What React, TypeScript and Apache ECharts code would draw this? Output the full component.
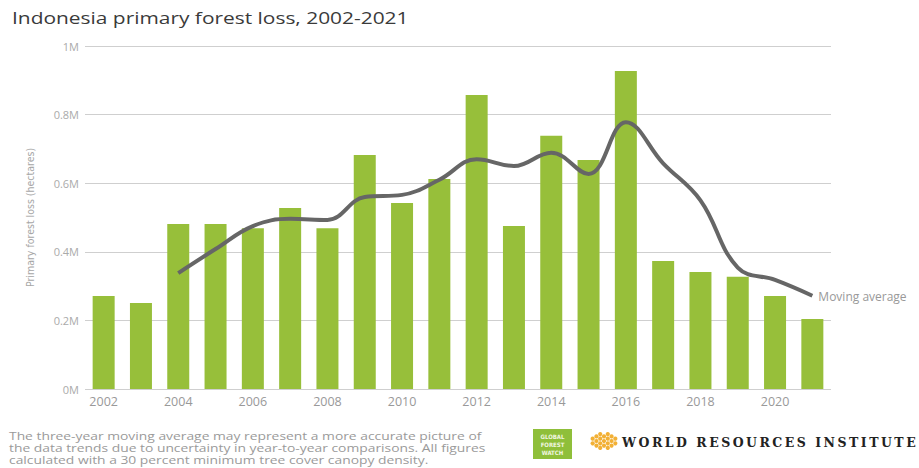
import React, { useEffect, useRef } from "react";
import * as echarts from "echarts";

const years = ["2002","2003","2004","2005","2006","2007","2008","2009","2010","2011","2012","2013","2014","2015","2016","2017","2018","2019","2020","2021"];
const forestLoss = [271000,251000,481000,481000,469000,528000,469000,682000,542000,612000,857000,475000,738000,668000,927000,373000,341000,327000,271000,204000];
const movingAverage = [null,null,338000,408000,475000,496000,493000,560000,566000,610000,670000,650000,689000,627000,778000,658000,550000,354000,318000,272000];
const yTicks = [0, 200000, 400000, 600000, 800000, 1000000];

const title = "Indonesia primary forest loss, 2002-2021";
const yAxisName = "Primary forest loss (hectares)";
const footnote = [
  "The three-year moving average may represent a more accurate picture of",
  "the data trends due to uncertainty in year-to-year comparisons. All figures",
  "calculated with a 30 percent minimum tree cover canopy density.",
];
const wriName = "WORLD RESOURCES INSTITUTE";

const NARROW = '"Liberation Sans Narrow", "DejaVu Sans Condensed", "Roboto", sans-serif';
const SANS = '"Open Sans", "Noto Sans", sans-serif';

function flowerDots() {
  const dots: any[] = [];
  const cx = 604, cy = 441, step = 4.2;
  for (let i = -2; i <= 2; i++) {
    for (let j = -2; j <= 2; j++) {
      if (Math.abs(i) + Math.abs(j) > 3) continue;
      dots.push({
        type: "circle",
        shape: { cx: cx + (i - j) * step * 0.9, cy: cy + (i + j) * step * 0.55, r: 2.1 },
        style: { fill: "#f2b035" },
      });
    }
  }
  return dots;
}

export default function App() {
  const ref = useRef<HTMLDivElement>(null);
  useEffect(() => {
    if (!ref.current) return;
    const chart = echarts.init(ref.current, null, { renderer: "svg" });
    chart.setOption({
      animation: false,
      backgroundColor: "#ffffff",
      grid: { left: 85, right: 88, top: 46, bottom: 79 },
      xAxis: {
        type: "category",
        data: years,
        axisLine: { show: false },
        axisTick: { show: false },
        axisLabel: { interval: 1, color: "#999", fontFamily: SANS, fontSize: 12.5, margin: 6 },
      },
      yAxis: {
        type: "value",
        min: 0,
        max: 1000000,
        interval: 200000,
        name: yAxisName,
        nameLocation: "middle",
        nameGap: 50,
        nameTextStyle: { fontFamily: NARROW, fontSize: 10.5, color: "#a6a6a6" },
        axisLine: { show: false },
        axisTick: { show: false },
        splitLine: { lineStyle: { color: "#cfcfcf", width: 1 } },
        axisLabel: {
          color: "#aaa",
          fontFamily: SANS,
          fontSize: 11,
          margin: 6,
          formatter: (v: number) => (yTicks.includes(v) ? `${v / 1000000}M` : ""),
        },
      },
      series: [
        {
          type: "bar",
          data: forestLoss,
          barWidth: 22,
          itemStyle: { color: "#97bf3a" },
        },
        {
          type: "line",
          data: movingAverage,
          smooth: 0.4,
          symbol: "none",
          lineStyle: { color: "#666", width: 4 },
          endLabel: {
            show: true,
            formatter: "Moving average",
            color: "#999",
            fontFamily: SANS,
            fontSize: 12,
            distance: 6,
            offset: [0, 1],
          },
        },
      ],
      graphic: [
        {
          type: "text",
          x: 12,
          y: 18,
          scaleX: 1.23,
          style: { text: title, fill: "#3a3a3a", fontFamily: SANS, fontSize: 17, verticalAlign: "middle" },
        },
        ...footnote.map((line, i) => ({
          type: "text",
          x: 9,
          y: 436 + i * 12,
          scaleX: 1.32,
          style: { text: line, fill: "#9a9a9a", fontFamily: SANS, fontSize: 10.5, verticalAlign: "middle" },
        })),
        {
          type: "rect",
          shape: { x: 533, y: 429, width: 39, height: 30 },
          style: { fill: "#8fbf3a" },
        },
        ...["GLOBAL", "FOREST", "WATCH"].map((w, i) => ({
          type: "text",
          x: 552.5,
          y: 433 + i * 8,
          style: { text: w, fill: "#f0f6e0", fontFamily: NARROW, fontSize: 6, fontWeight: "bold", align: "center" },
        })),
        ...flowerDots(),
        {
          type: "text",
          x: 622,
          y: 442,
          style: {
            text: wriName.split("").join("\u2009"),
            fill: "#222",
            fontFamily: '"DejaVu Serif", "Liberation Serif", serif',
            fontSize: 12.5,
            fontWeight: "bold",
            verticalAlign: "middle",
          },
        },
      ],
    });
    return () => chart.dispose();
  }, []);
  return <div ref={ref} style={{ position: "fixed", left: 0, top: 0, width: 919, height: 468 }} />;
}
